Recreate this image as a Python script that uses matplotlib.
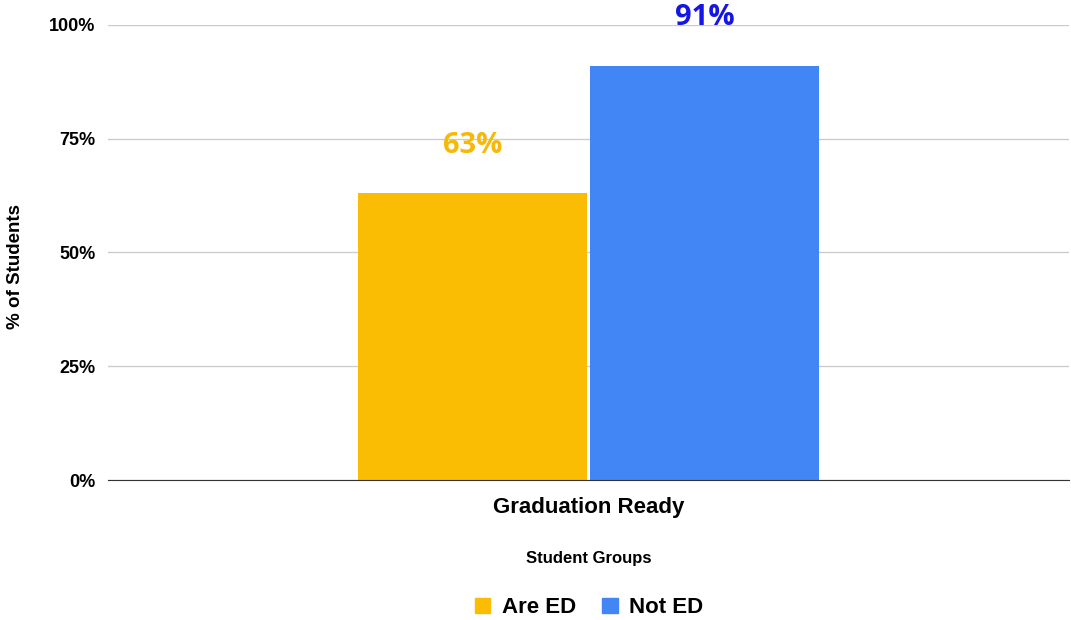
import numpy as np
import matplotlib.pyplot as plt
from matplotlib.patches import Patch

# Data
category = ['Graduation Ready']
groups = ['Are ED', 'Not ED']
values = [63, 91]
bar_colors = ['#FBBC04', '#4285F4']
label_colors = ['#F6B90A', '#1515E6']
y_ticks = [0, 25, 50, 75, 100]

fig = plt.figure(figsize=(10.71, 6.2), dpi=100)
ax = fig.add_axes([0.1008, 0.2258, 0.8972, 0.7339])

width = 0.477
offsets = [-width / 2 - 0.003, width / 2 + 0.003]
for i in range(len(groups)):
    ax.bar(offsets[i], values[i], width=width, color=bar_colors[i], zorder=3)
    ax.text(offsets[i], values[i] + 7.4, f'{values[i]}%', ha='center', va='bottom',
            fontsize=21, fontweight='bold', color=label_colors[i],
            family='Open Sans', clip_on=False)

ax.set_xlim(-1, 1)
ax.set_ylim(0, 100)
ax.set_yticks(y_ticks)
ax.set_yticklabels([f'{t}%' for t in y_ticks], fontsize=13, fontweight='bold',
                   family='Liberation Sans')
ax.set_xticks([0])
ax.set_xticklabels(category, fontsize=16, fontweight='bold', family='Liberation Sans')
ax.tick_params(axis='y', length=0, pad=9)
ax.tick_params(axis='x', length=0, pad=12)
ax.grid(axis='y', color='#cccccc', linewidth=1, zorder=0)
for s in ['top', 'right', 'left']:
    ax.spines[s].set_visible(False)
ax.spines['bottom'].set_color('#333333')
ax.spines['bottom'].set_zorder(4)

ax.set_ylabel('% of Students', fontsize=13.5, fontweight='bold', family='Liberation Sans')
ax.yaxis.set_label_coords(-0.087, 0.47)
ax.set_xlabel('Student Groups', fontsize=12, fontweight='bold', family='Liberation Sans',
              labelpad=24)

handles = [Patch(color=c) for c in bar_colors]
fig.legend(handles, groups, loc='center', bbox_to_anchor=(0.55, 0.02), ncol=2,
           frameon=False, prop={'family': 'Liberation Sans', 'size': 16, 'weight': 'bold'},
           handlelength=0.7, handleheight=0.7, handletextpad=0.5, columnspacing=1.2)

fig.savefig('out.png', dpi=100)
